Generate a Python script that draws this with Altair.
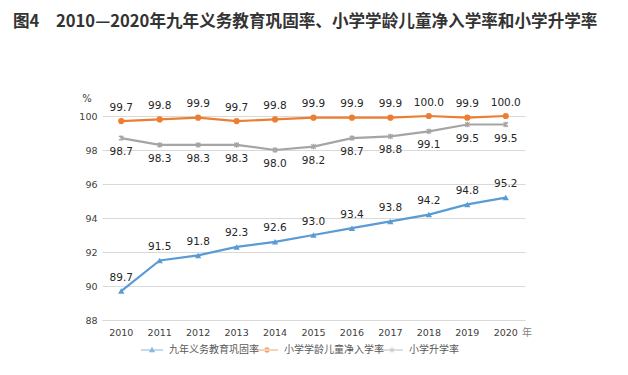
import altair as alt
import pandas as pd

years = [str(y) for y in range(2010, 2021)]
series_names = ["九年义务教育巩固率", "小学学龄儿童净入学率", "小学升学率"]
consolidation = [89.7, 91.5, 91.8, 92.3, 92.6, 93.0, 93.4, 93.8, 94.2, 94.8, 95.2]
enrollment = [99.7, 99.8, 99.9, 99.7, 99.8, 99.9, 99.9, 99.9, 100.0, 99.9, 100.0]
promotion = [98.7, 98.3, 98.3, 98.3, 98.0, 98.2, 98.7, 98.8, 99.1, 99.5, 99.5]
y_ticks = [88, 90, 92, 94, 96, 98, 100]

title_prefix = "图4"
title_main = "2010—2020年九年义务教育巩固率、小学学龄儿童净入学率和小学升学率"

colors = ["#5B9BD5", "#ED7D31", "#A5A5A5"]
marker_shapes = ["triangle-up", "circle", "M-0.8,-0.8L0.8,0.8M-0.8,0.8L0.8,-0.8M0,-1L0,1"]
bar = "M-3.5,-0.17H3.5V0.17H-3.5Z "
legend_shapes = [
    bar + "M0,-1L1,0.75H-1Z",
    bar + "M-0.9,0A0.9,0.9 0 1,0 0.9,0A0.9,0.9 0 1,0 -0.9,0Z",
    bar + "M-0.75,-0.6L-0.6,-0.75L0.75,0.6L0.6,0.75Z M0.6,-0.75L0.75,-0.6L-0.6,0.75L-0.75,0.6Z M-0.09,-0.9H0.09V0.9H-0.09Z",
]

rows = []
for name, vals in zip(series_names, [consolidation, enrollment, promotion]):
    for yr, v in zip(years, vals):
        rows.append({"year": yr, "value": v, "series": name, "label": f"{v:.1f}"})
df = pd.DataFrame(rows)

x_enc = alt.X("year:N", sort=years,
              scale=alt.Scale(type="band", paddingInner=0, paddingOuter=0),
              axis=alt.Axis(title=None, labelAngle=0, ticks=False, domain=False, grid=False,
                            labelFont="DejaVu Sans", labelFontSize=9.5, labelColor="#404040",
                            labelPadding=7))
y_enc = alt.Y("value:Q", scale=alt.Scale(domain=[88, 100], nice=False, zero=False),
              axis=alt.Axis(title=None, values=y_ticks, ticks=False, domain=False,
                            grid=True, gridColor="#D9D9D9", gridWidth=1,
                            labelFont="DejaVu Sans", labelFontSize=9.5, labelColor="#404040",
                            labelPadding=5))

base = alt.Chart(df).encode(x=x_enc, y=y_enc)

layers = []
offsets = [-13.5, -13.5, 14]
for name, col, shp, off in zip(series_names, colors, marker_shapes, offsets):
    sub = base.transform_filter(alt.datum.series == name)
    layers.append(sub.mark_line(color=col, strokeWidth=2.2))
    if name == "小学升学率":
        layers.append(sub.mark_point(shape=shp, color=col, filled=False, size=30, strokeWidth=1.3, opacity=1))
    else:
        layers.append(sub.mark_point(shape=shp, fill=col, color=col, filled=True, size=38 if shp == "circle" else 40, opacity=1))
    layers.append(sub.mark_text(dy=off, font="DejaVu Sans", fontSize=10.5, color="#262626").encode(text="label:N"))

legend_layer = base.mark_point(filled=True, size=0).encode(
    color=alt.Color("series:N", scale=alt.Scale(domain=series_names, range=colors),
                    legend=alt.Legend(title=None, orient="none", direction="horizontal",
                                      legendX=45, legendY=229, symbolSize=40,
                                      labelOffset=12, columnPadding=-4,
                                      labelFont="Noto Sans CJK SC", labelFontSize=10,
                                      labelColor="#595959")),
    shape=alt.Shape("series:N", scale=alt.Scale(domain=series_names, range=legend_shapes)),
)
layers.append(legend_layer)

tdf = pd.DataFrame({"a": [title_prefix], "b": [title_main], "pct": ["%"], "yr": ["年"]})
deco = alt.Chart(tdf)
layers.append(deco.mark_text(align="left", baseline="middle", font="Noto Sans CJK SC",
                             fontWeight="bold", fontSize=16.6, color="#333333")
              .encode(text="a:N", x=alt.value(-89), y=alt.value(-94)))
layers.append(deco.mark_text(align="left", baseline="middle", font="Noto Sans CJK SC",
                             fontWeight="bold", fontSize=16.6, color="#333333")
              .encode(text="b:N", x=alt.value(-46), y=alt.value(-94)))
layers.append(deco.mark_text(align="center", baseline="middle", font="DejaVu Sans",
                             fontSize=10, color="#404040")
              .encode(text="pct:N", x=alt.value(-15), y=alt.value(-17)))
layers.append(deco.mark_text(align="center", baseline="middle", font="Noto Sans CJK SC",
                             fontSize=10, color="#808080")
              .encode(text="yr:N", x=alt.value(425), y=alt.value(12.5 + 204)))

chart = alt.layer(*layers).properties(
    width=423, height=204,
    autosize=alt.AutoSizeParams(type="none"),
    padding={"left": 102, "top": 116, "right": 103, "bottom": 55},
    background="white",
).configure_view(stroke=None)

chart.save("out.html", embed_options={"renderer": "svg", "actions": False})
